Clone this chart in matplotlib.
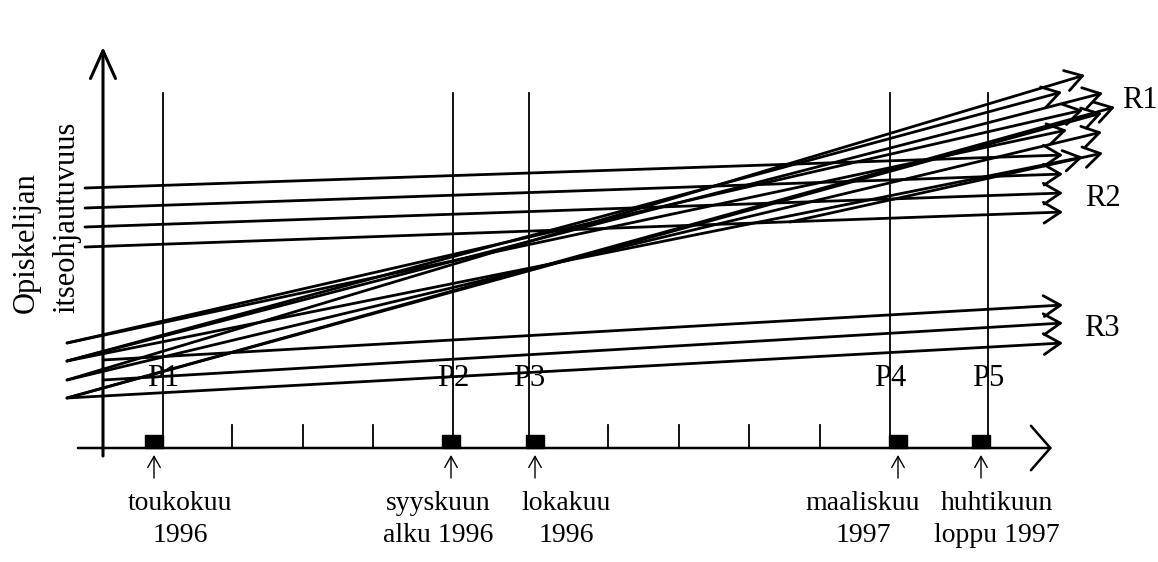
import matplotlib
matplotlib.use("Agg")
import matplotlib.pyplot as plt
from matplotlib.patches import Rectangle

plt.rcParams['font.family'] = ['Liberation Serif', 'DejaVu Serif']

# mittauskohdat P1..P5
jaksot = ['P1', 'P2', 'P3', 'P4', 'P5']
jakso_x = [163, 453, 529, 890, 988]
merkki_x = [154, 451, 535, 898, 981]
kuukaudet = ['toukokuu\n1996', 'syyskuun\nalku 1996', 'lokakuu\n1996',
             'maaliskuu\n1997', 'huhtikuun\nloppu 1997']
kuukausi_x = [180, 438, 566, 863, 997]
valit_x = [232, 303, 373, 608, 679, 749, 820]

# R1: nousevat kehityskaaret
r1_x0 = [67, 67, 67, 67, 67, 67, 67, 67, 790, 67]
r1_y0 = [380, 361, 361, 343, 398, 398, 343, 380, 222, 361]
r1_x1 = [1085, 1062, 1103, 1083, 1115, 1102, 1067, 1102, 1103, 1083]
r1_y1 = [75, 92, 93, 110, 107, 113, 130, 132, 153, 157]

# R2: korkealta alkavat, lähes vaakasuorat
r2_x0 = [85, 85, 85, 85]
r2_y0 = [188, 208, 227, 247]
r2_x1 = [1063, 1063, 1063, 1063]
r2_y1 = [155, 174, 193, 212]

# R3: matalalta alkavat, lähes vaakasuorat
r3_x0 = [103, 103, 67]
r3_y0 = [360, 380, 398]
r3_x1 = [1063, 1063, 1063]
r3_y1 = [305, 323, 343]

ryhmat = ['R1', 'R2', 'R3']
ryhma_pos = [(1140, 101), (1103, 199), (1102, 329)]


def nuoli(ax, x0, y0, x1, y1, lw=2.0, hl=1.2, hw=0.75):
    ax.annotate('', xy=(x1, y1), xytext=(x0, y0),
                arrowprops=dict(arrowstyle=f'->,head_length={hl},head_width={hw}',
                                lw=lw, color='black', shrinkA=0, shrinkB=0,
                                mutation_scale=10))


fig = plt.figure(figsize=(11.58, 5.62), dpi=100)
ax = fig.add_axes([0, 0, 1, 1])
ax.set_xlim(0, 1158)
ax.set_ylim(562, 0)
ax.axis('off')

# akselit
nuoli(ax, 103, 456, 103, 47, lw=2.2, hl=2.0, hw=0.9)
nuoli(ax, 78, 448, 1052, 448, lw=1.8, hl=1.4, hw=1.6)

for x in valit_x:
    ax.plot([x, x], [425, 448], color='black', lw=1.3)

for x in jakso_x:
    ax.plot([x, x], [93, 448], color='black', lw=1.3)

for x in merkki_x:
    ax.add_patch(Rectangle((x - 9, 435), 18, 13, color='black'))
    nuoli(ax, x, 478, x, 455, lw=1.0, hl=0.8, hw=0.45)

for nimi, x in zip(jaksot, jakso_x):
    ax.text(x, 378, nimi, fontsize=22, ha='center', va='center')

for teksti, x in zip(kuukaudet, kuukausi_x):
    ax.text(x, 491, teksti, fontsize=20, ha='center', va='top',
            multialignment='center', linespacing=1.38)

for i in range(len(r1_x0)):
    nuoli(ax, r1_x0[i], r1_y0[i], r1_x1[i], r1_y1[i])
for i in range(len(r2_x0)):
    nuoli(ax, r2_x0[i], r2_y0[i], r2_x1[i], r2_y1[i])
for i in range(len(r3_x0)):
    nuoli(ax, r3_x0[i], r3_y0[i], r3_x1[i], r3_y1[i])

for nimi, (x, y) in zip(ryhmat, ryhma_pos):
    ax.text(x, y, nimi, fontsize=22, ha='center', va='center')

ax.text(26, 313, 'Opiskelijan', fontsize=22, rotation=90, ha='center', va='bottom')
ax.text(67, 313, 'itseohjautuvuus', fontsize=22, rotation=90, ha='center', va='bottom')

fig.savefig('out.png', dpi=100)
